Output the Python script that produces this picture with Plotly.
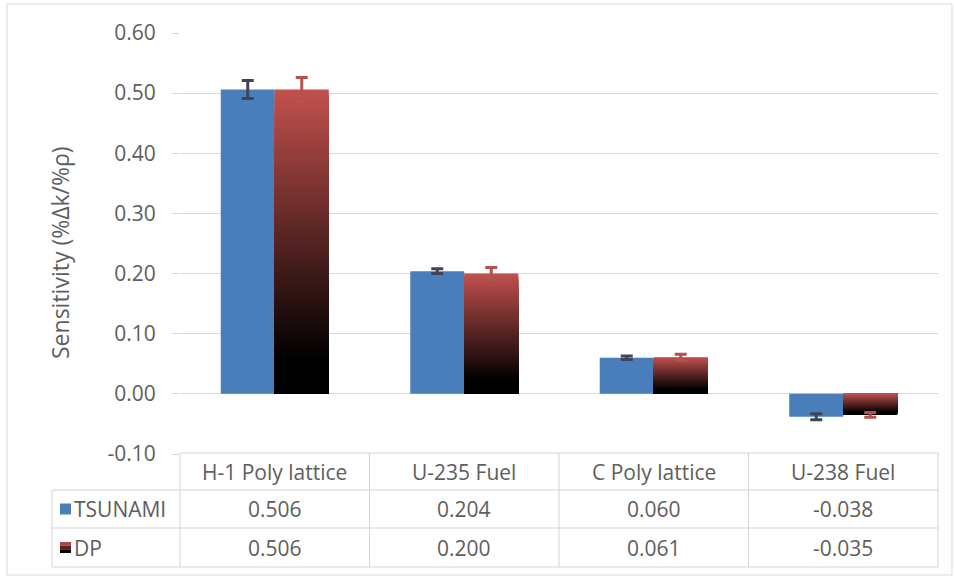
import plotly.graph_objects as go

# ---- data ----
categories = ["H-1 Poly lattice", "U-235 Fuel", "C Poly lattice", "U-238 Fuel"]
series_names = ["TSUNAMI", "DP"]
tsunami = [0.506, 0.204, 0.060, -0.038]
dp = [0.506, 0.200, 0.061, -0.035]
tsunami_err = [0.015, 0.004, 0.003, 0.005]
dp_err = [0.020, 0.010, 0.005, 0.004]
y_ticks = [-0.10, 0.00, 0.10, 0.20, 0.30, 0.40, 0.50, 0.60]
y_title = "Sensitivity (%Δk/%ρ)"

# ---- page geometry (pixels) ----
W, H = 954, 577
ML, MR, MT, MB = 180, 16, 33, 123
PW, PH = W - ML - MR, H - MT - MB


def px(x):
    return (x - ML) / PW


def py(y):
    return (H - MB - y) / PH


n = len(categories)


def xp(v):
    # category-axis coordinate -> paper fraction
    return (v + 0.5) / n


FONT = "Open Sans"
FS = 21
TXT = "#5e5e5e"
GRID = "#d9d9d9"
LINE = "#d4d4d4"
BLUE = "#4a7ebb"
RED = (192, 80, 77)
BW = 0.285
xs = list(range(n))


def grad(t):
    # t = 1 at the red end of a DP bar, 0 at the black end
    s = max(0.0, min(1.0, (t - 0.12) / 0.88))
    return "rgb({},{},{})".format(*(round(c * s) for c in RED))


fig = go.Figure()

fig.add_bar(
    x=xs, y=tsunami, offset=-BW, width=BW, name=series_names[0],
    marker=dict(color=BLUE, line=dict(width=0)),
    error_y=dict(type="data", array=tsunami_err, color="#3d4658", thickness=3, width=6),
)

# DP bars: red-to-black vertical gradient built from nested overlaid bars
N = 70
for k in range(N):
    f = 1 - k / N
    fig.add_bar(
        x=xs, y=[v * f for v in dp], offset=0, width=BW,
        marker=dict(color=[grad(f) if v >= 0 else grad(1 - f) for v in dp], line=dict(width=0)),
        hoverinfo="skip", showlegend=False,
    )
fig.add_bar(
    x=xs, y=dp, offset=0, width=BW, name=series_names[1],
    marker=dict(color="rgba(0,0,0,0)", line=dict(width=0)),
    error_y=dict(type="data", array=dp_err, color="#b5524e", thickness=3, width=6),
)

shapes = []
ann = []

# chart border
shapes.append(dict(type="rect", xref="paper", yref="paper", x0=px(7), x1=px(952), y0=py(4), y1=py(575),
                   line=dict(color=GRID, width=1), layer="below"))

# data table grid
row_y = [453, 490, 528, 567]
shapes.append(dict(type="line", xref="paper", yref="paper", x0=xp(-0.5), x1=xp(n - 0.5),
                   y0=py(row_y[0]), y1=py(row_y[0]), line=dict(color=LINE, width=1)))
for yy in row_y[1:]:
    shapes.append(dict(type="line", xref="paper", yref="paper", x0=px(52), x1=xp(n - 0.5),
                       y0=py(yy), y1=py(yy), line=dict(color=LINE, width=1)))
shapes.append(dict(type="line", xref="paper", yref="paper", x0=px(52), x1=px(52),
                   y0=py(row_y[1]), y1=py(row_y[3]), line=dict(color=LINE, width=1)))
for i in range(n + 1):
    shapes.append(dict(type="line", xref="paper", yref="paper", x0=xp(i - 0.5), x1=xp(i - 0.5),
                       y0=py(row_y[0]), y1=py(row_y[3]), line=dict(color=LINE, width=1)))

row_mid = [(row_y[j] + row_y[j + 1]) / 2 for j in range(3)]
for i, c in enumerate(categories):
    ann.append(dict(x=xp(i), y=py(row_mid[0]), text=c))
    ann.append(dict(x=xp(i), y=py(row_mid[1]), text=f"{tsunami[i]:.3f}"))
    ann.append(dict(x=xp(i), y=py(row_mid[2]), text=f"{dp[i]:.3f}"))

# legend keys inside the table
shapes.append(dict(type="rect", xref="paper", yref="paper", x0=px(60), x1=px(71),
                   y0=py(row_mid[1] - 5.5), y1=py(row_mid[1] + 5.5), line=dict(width=0), fillcolor=BLUE))
for j, t in enumerate([0.9, 0.5, 0.1]):
    y0 = row_mid[2] - 5.5 + j * 11 / 3
    shapes.append(dict(type="rect", xref="paper", yref="paper", x0=px(60), x1=px(71),
                       y0=py(y0), y1=py(y0 + 11 / 3), line=dict(width=0), fillcolor=grad(t)))
for j, s in enumerate(series_names):
    ann.append(dict(x=px(72), y=py(row_mid[j + 1]), text=s, xanchor="left"))

# y-axis title
ann.append(dict(x=px(60), y=py(252), text=y_title, textangle=-90, font=dict(family=FONT, size=23, color=TXT)))

for a in ann:
    a.setdefault("xref", "paper")
    a.setdefault("yref", "paper")
    a.setdefault("xanchor", "center")
    a.setdefault("yanchor", "middle")
    a.setdefault("showarrow", False)
    a.setdefault("font", dict(family=FONT, size=FS, color=TXT))

fig.update_layout(
    width=W, height=H,
    margin=dict(l=ML, r=MR, t=MT, b=MB, pad=0),
    paper_bgcolor="white", plot_bgcolor="white",
    barmode="overlay", showlegend=False,
    font=dict(family=FONT, size=FS, color=TXT),
    shapes=shapes, annotations=ann,
    xaxis=dict(range=[-0.5, n - 0.5], showticklabels=False, showgrid=False,
               zeroline=False, showline=False, ticks="", fixedrange=True),
    yaxis=dict(range=[-0.10, 0.60], tickvals=y_ticks, ticktext=[f"{v:.2f}" for v in y_ticks],
               showgrid=True, gridcolor=GRID, gridwidth=1, zeroline=False, showline=False,
               ticks="outside", ticklen=7, tickcolor=GRID, ticklabelstandoff=12,
               tickfont=dict(family=FONT, size=FS, color=TXT), fixedrange=True),
)

fig.write_html("out.html")
